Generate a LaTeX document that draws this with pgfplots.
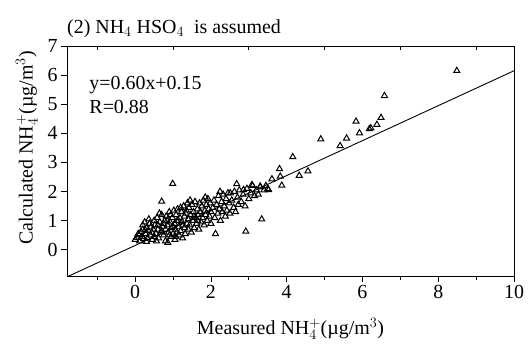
\documentclass[border=0pt]{standalone}
\usepackage{fontspec}
\setmainfont{Liberation Serif}
\usepackage{pgfplots}
\pgfplotsset{compat=1.18}
\pgfplotstableread{
x y
0.00 0.35
0.05 0.42
0.10 0.50
0.12 0.30
0.15 0.62
0.18 0.45
0.20 0.70
0.08 0.55
0.22 0.38
0.25 0.95
0.20 0.85
0.28 0.55
0.30 0.75
0.32 0.40
0.35 0.65
0.38 0.90
0.40 0.50
0.42 0.80
0.45 0.35
0.48 0.70
0.50 1.00
0.30 0.28
0.36 1.05
0.44 0.60
0.50 0.45
0.26 0.68
0.52 0.85
0.55 0.55
0.58 1.10
0.60 0.70
0.62 0.40
0.65 0.95
0.68 0.60
0.70 1.20
0.72 0.80
0.75 0.50
0.78 1.00
0.80 0.30
0.80 0.70
0.56 0.30
0.64 1.25
0.74 0.90
0.60 0.85
0.70 0.65
0.82 1.15
0.85 0.85
0.86 0.25
0.88 0.60
0.90 1.30
0.92 0.95
0.95 0.45
0.96 0.75
0.98 1.10
1.00 0.55
1.02 1.35
1.04 0.90
1.05 0.35
1.06 0.70
1.08 1.20
1.10 0.60
1.10 1.00
0.90 0.50
1.00 0.80
0.94 1.20
1.07 0.45
0.84 1.00
1.12 1.40
1.15 0.80
1.16 0.50
1.18 1.10
1.20 0.65
1.22 1.30
1.24 0.95
1.25 0.40
1.28 1.50
1.30 0.75
1.30 1.15
1.32 0.55
1.35 1.35
1.36 0.90
1.38 1.60
1.40 0.70
1.40 1.05
1.20 1.45
1.14 1.00
1.26 0.85
1.34 1.25
1.42 1.45
1.44 0.85
1.46 1.20
1.48 0.60
1.50 1.55
1.52 1.00
1.54 1.30
1.56 0.75
1.58 1.65
1.60 1.10
1.62 0.90
1.64 1.40
1.66 1.20
1.68 0.70
1.70 1.60
1.45 1.70
1.55 1.15
1.65 1.00
1.72 1.30
1.74 0.95
1.76 1.50
1.78 1.10
1.80 1.70
1.82 0.85
1.84 1.35
1.86 1.20
1.88 1.55
1.90 1.00
1.92 1.75
1.94 1.40
1.96 1.15
1.98 1.60
2.00 0.90
2.00 1.30
1.85 1.80
2.05 1.45
2.08 1.70
2.10 1.10
2.12 0.55
2.15 1.55
2.18 1.25
2.20 1.85
2.22 1.40
2.25 1.00
2.28 1.65
2.30 1.30
2.32 1.90
2.35 1.50
2.38 1.15
2.40 1.75
2.42 1.35
2.45 1.95
2.48 1.60
2.50 1.25
2.55 1.70
2.60 1.45
2.62 2.00
2.65 1.30
2.70 1.80
2.72 1.55
2.75 2.05
2.80 1.65
2.85 1.90
2.90 1.50
2.95 2.10
3.00 1.75
3.05 1.95
3.10 2.20
3.15 1.85
3.20 2.05
3.25 1.90
3.30 2.15
3.40 2.05
3.45 2.20
3.50 2.10
0.99 2.27
0.70 1.66
2.24 2.00
2.51 1.95
2.68 2.26
2.86 2.06
3.08 2.23
3.30 2.18
3.52 2.06
2.92 0.63
3.34 1.05
3.61 2.43
3.81 2.78
3.83 2.52
3.87 2.21
4.33 2.55
4.56 2.70
4.16 3.19
4.90 3.80
5.41 3.57
5.58 3.83
5.83 4.41
5.92 4.01
6.18 4.15
6.22 4.18
6.38 4.30
6.49 4.54
6.58 5.29
8.49 6.15
}\meas
\begin{document}
\begin{tikzpicture}[font=\fontsize{20}{24}\selectfont]
\path[use as bounding box] (-67bp,-69bp) rectangle (463bp,276bp);
\begin{axis}[
  scale only axis, width=447bp, height=230bp,
  xmin=-1.8, xmax=10, ymin=-0.9, ymax=7,
  xtick={0,2,...,10}, minor xtick={-1,1,...,9},
  ytick={0,1,...,7},
  xtick pos=left, ytick pos=left,
  tick align=outside,
  major tick length=6bp, minor tick length=4bp,
  axis line style={line width=0.9pt},
  every tick/.style={line width=0.8pt, black},
  tick label style={font=\fontsize{20}{24}\selectfont},
  label style={font=\fontsize{20}{24}\selectfont},
  /pgf/number format/assume math mode=true,
  xlabel={Measured NH$_4^+$(µg/m$^3$)},
  ylabel={Calculated NH$_4^+$(µg/m$^3$)},
  xlabel style={yshift=-12bp},
  ylabel style={xshift=13bp, yshift=3bp},
  clip mode=individual,
]
\addplot[only marks, mark=triangle, mark size=3.5pt, mark options={line width=1pt, black}] table {\meas};
\addplot[black, line width=0.9pt] coordinates {(-1.8,-0.93) (10,6.15)};
\node[anchor=west] at (axis cs:-1.3,5.67) {y=0.60x+0.15};
\node[anchor=west] at (axis cs:-1.3,4.91) {R=0.88};
\node[anchor=base west, inner sep=0pt] at ([yshift=13bp]rel axis cs:0,1) {(2) NH$_4$ HSO$_4$\ \ is assumed};
\end{axis}
\begin{axis}[
  scale only axis, width=447bp, height=230bp,
  xmin=-1.8, xmax=10, ymin=-0.9, ymax=7,
  hide y axis, axis x line*=top,
  xtick={-1,1,...,9}, xticklabels={},
  tick align=inside, major tick length=4bp,
  axis line style={draw=none},
  every tick/.style={line width=0.8pt, black},
]
\end{axis}
\end{tikzpicture}
\end{document}
